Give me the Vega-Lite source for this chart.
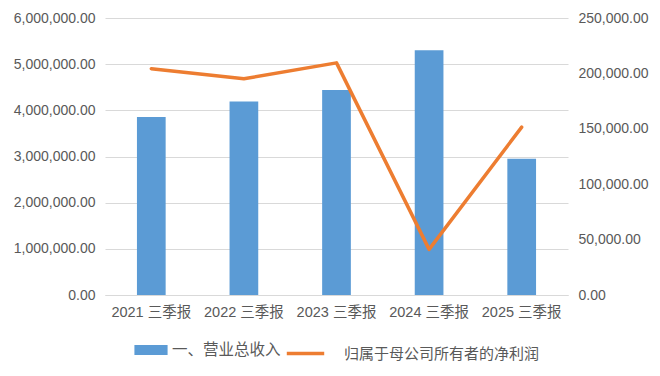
{
  "$schema": "https://vega.github.io/schema/vega-lite/v6.json",
  "width": 660,
  "height": 376,
  "autosize": {"type": "fit", "contains": "padding"},
  "padding": {"left": 13, "right": 11, "top": 11, "bottom": 14},
  "background": "white",
  "data": {
    "values": [
      {"period": "2021 三季报", "revenue": 3854000, "profit": 204300},
      {"period": "2022 三季报", "revenue": 4192000, "profit": 195100},
      {"period": "2023 三季报", "revenue": 4440000, "profit": 209500},
      {"period": "2024 三季报", "revenue": 5300000, "profit": 41200},
      {"period": "2025 三季报", "revenue": 2950000, "profit": 151500}
    ]
  },
  "encoding": {
    "x": {
      "field": "period",
      "type": "nominal",
      "sort": null,
      "title": null,
      "scale": {"paddingInner": 0.69, "paddingOuter": 0.345},
      "axis": {
        "labelAngle": 0,
        "ticks": false,
        "domainColor": "#d9d9d9",
        "domainWidth": 1,
        "labelFont": "Liberation Sans, Noto Sans CJK SC",
        "labelFontSize": 14.5,
        "labelColor": "#595959",
        "labelPadding": 10,
        "grid": false
      }
    }
  },
  "layer": [
    {
      "mark": {"type": "bar", "fill": "#5B9BD5"},
      "encoding": {
        "y": {
          "field": "revenue",
          "type": "quantitative",
          "title": null,
          "scale": {"domain": [0, 6000000], "nice": false},
          "axis": {
            "orient": "left",
            "values": [0, 1000000, 2000000, 3000000, 4000000, 5000000, 6000000],
            "format": ",.2f",
            "grid": true,
            "gridColor": "#d9d9d9",
            "domain": false,
            "ticks": false,
            "labelFont": "Liberation Sans",
            "labelFontSize": 14,
            "labelColor": "#595959",
            "labelPadding": 10
          }
        },
        "fill": {
          "datum": "一、营业总收入",
          "scale": {"range": ["#5B9BD5"]},
          "legend": {
            "orient": "bottom",
            "title": null,
            "symbolType": "M-1,-0.3H1V0.3H-1Z",
            "symbolSize": 1100,
            "symbolStrokeWidth": 0,
            "labelFont": "Noto Sans CJK SC",
            "labelFontSize": 15.5,
            "labelColor": "#595959",
            "labelOffset": 4,
            "labelLimit": 0
          }
        }
      }
    },
    {
      "mark": {"type": "line", "stroke": "#ED7D31", "strokeWidth": 3.5, "strokeCap": "round", "strokeJoin": "round"},
      "encoding": {
        "y": {
          "field": "profit",
          "type": "quantitative",
          "title": null,
          "scale": {"domain": [0, 250000], "nice": false},
          "axis": {
            "orient": "right",
            "values": [0, 50000, 100000, 150000, 200000, 250000],
            "format": ",.2f",
            "grid": false,
            "domain": false,
            "ticks": false,
            "labelFont": "Liberation Sans",
            "labelFontSize": 14,
            "labelColor": "#595959",
            "labelPadding": 10
          }
        },
        "stroke": {
          "datum": "归属于母公司所有者的净利润",
          "scale": {"range": ["#ED7D31"]},
          "legend": {
            "orient": "bottom",
            "title": null,
            "symbolType": "M-1,0H1",
            "symbolSize": 1400,
            "symbolStrokeWidth": 3.5,
            "labelFont": "Noto Sans CJK SC",
            "labelFontSize": 15,
            "labelColor": "#595959",
            "labelOffset": 18,
            "labelLimit": 0
          }
        }
      }
    }
  ],
  "resolve": {"scale": {"y": "independent"}},
  "config": {
    "view": {"stroke": null},
    "legend": {"offset": 14, "layout": {"bottom": {"anchor": "middle", "margin": 4}}}
  }
}
